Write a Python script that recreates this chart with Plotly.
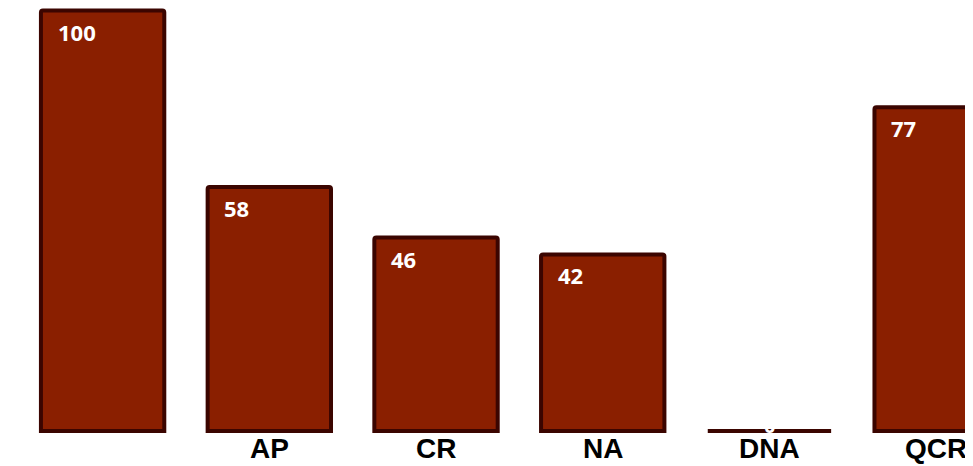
import plotly.graph_objects as go

categories = [" ", "AP", "CR", "NA", "DNA", "QCR"]
values = [100, 58, 46, 42, 0, 77]
value_labels = ["100", "58", "46", "42", "0", "77"]

FILL = "#8A1F00"
EDGE = "#3B0500"

fig = go.Figure()
fig.add_trace(go.Bar(
    x=categories, y=values, width=0.74,
    marker=dict(color=FILL, line=dict(color=EDGE, width=4), cornerradius=2),
    hoverinfo="skip", showlegend=False,
))

for c, v, t in zip(categories, values, value_labels):
    if v == 0:
        fig.add_annotation(x=c, y=v, text=f"<b>{t}</b>", showarrow=False,
                           xanchor="center", yanchor="middle", yshift=6,
                           font=dict(family="Open Sans", size=20, color="white"))
    else:
        fig.add_annotation(x=c, y=v, text=f"<b>{t}</b>", showarrow=False,
                           xanchor="left", yanchor="middle", xshift=-47, yshift=-21,
                           font=dict(family="Open Sans", size=22, color="white"))
    # category label
    fig.add_annotation(x=c, yref="paper", y=0, text=f"<b>{c}</b>", showarrow=False,
                       xanchor="center", yanchor="top", yshift=5,
                       font=dict(family="Liberation Sans", size=28, color="black"))

fig.update_layout(
    width=965, height=458,
    margin=dict(l=0, r=0, t=0, b=30, autoexpand=False),
    paper_bgcolor="white", plot_bgcolor="white",
    xaxis=dict(type="category", range=[-0.5675, 5.221], showgrid=False,
               zeroline=False, showline=False, ticks="", showticklabels=False,
               automargin=False),
    yaxis=dict(range=[-1.19, 100.6], visible=False, showgrid=False, zeroline=False,
               automargin=False),
)

fig.write_html("out.html")
